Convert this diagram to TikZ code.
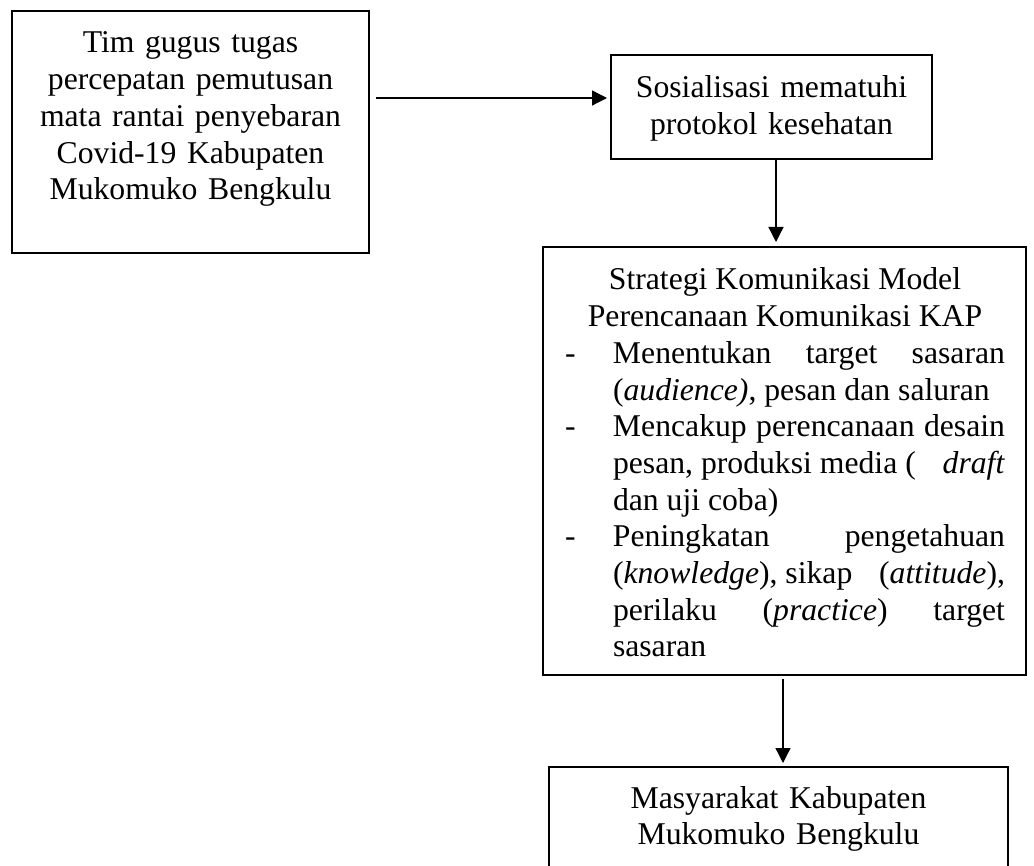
\documentclass[tikz,border=0pt]{standalone}
\usepackage{fontspec}
\setmainfont{Liberation Serif}
\usetikzlibrary{arrows.meta}
\tikzset{
  box/.style={draw, line width=1.3pt, inner sep=0pt, outer sep=0pt, rectangle},
  txt/.style={inner sep=0pt, outer sep=0pt, align=center, font=\fontsize{31.7}{36.7}\selectfont},
  arr/.style={line width=1.3pt, -{Triangle[length=15pt,width=15pt]}},
}
\newcommand\listitem[1]{\par\hangindent=48pt\hangafter=1\noindent\makebox[48pt][l]{-}#1}
\begin{document}
\begin{tikzpicture}[x=1pt,y=-1pt]
\useasboundingbox (0,0) rectangle (1034,866);
\fill[white] (0,0) rectangle (1034,866);
\clip (0,0) rectangle (1034,866);

% boxes
\node[box, minimum width=357pt, minimum height=242pt] (b1) at (190.5,132) {};
\node[box, minimum width=321pt, minimum height=104pt] (b2) at (771.5,107) {};
\node[box, minimum width=483pt, minimum height=428pt] (b3) at (784.5,461) {};
\node[box, minimum width=459pt, minimum height=153pt] (b4) at (778.5,843.5) {};

% texts
\node[txt, text width=357pt, anchor=base] (t1) at (190.5,53)
  {Tim gugus tugas\\ percepatan pemutusan\\ mata rantai penyebaran\\ Covid-19 Kabupaten\\ Mukomuko Bengkulu};
\node[txt, text width=321pt, anchor=base] (t2) at (771.5,98)
  {Sosialisasi mematuhi\\ protokol kesehatan};
\node[txt, text width=459pt, anchor=base] (t4) at (778.5,808)
  {Masyarakat Kabupaten\\ Mukomuko Bengkulu};
\node[txt, anchor=base west, align=left] (t3) at (565,290)
  {\parbox[t]{440pt}{\hbadness=10000\tolerance=10000\parindent=0pt
   {\centering Strategi Komunikasi Model\\ Perencanaan Komunikasi KAP\par}
   \listitem{Menentukan target sasaran\linebreak (\textit{audience)}, pesan dan saluran}
   \listitem{Mencakup perencanaan desain\linebreak pesan, produksi media (\hfill\textit{draft}\linebreak dan uji coba)}
   \listitem{Peningkatan pengetahuan\linebreak (\textit{knowledge}), sikap\hfill(\textit{attitude}),\linebreak perilaku (\textit{practice}) target\linebreak sasaran}\par}};

% connectors
\coordinate (a1) at (0,98);
\coordinate (a2) at (776,0);
\coordinate (a3) at (783,0);
\draw[arr, shorten <=7pt, shorten >=4pt] (b1.east |- a1) -- (b2.west |- a1);
\draw[arr, shorten >=5pt] (b2.south -| a2) -- (b3.north -| a2);
\draw[arr, shorten <=4pt, shorten >=4pt] (b3.south -| a3) -- (b4.north -| a3);
\end{tikzpicture}
\end{document}
